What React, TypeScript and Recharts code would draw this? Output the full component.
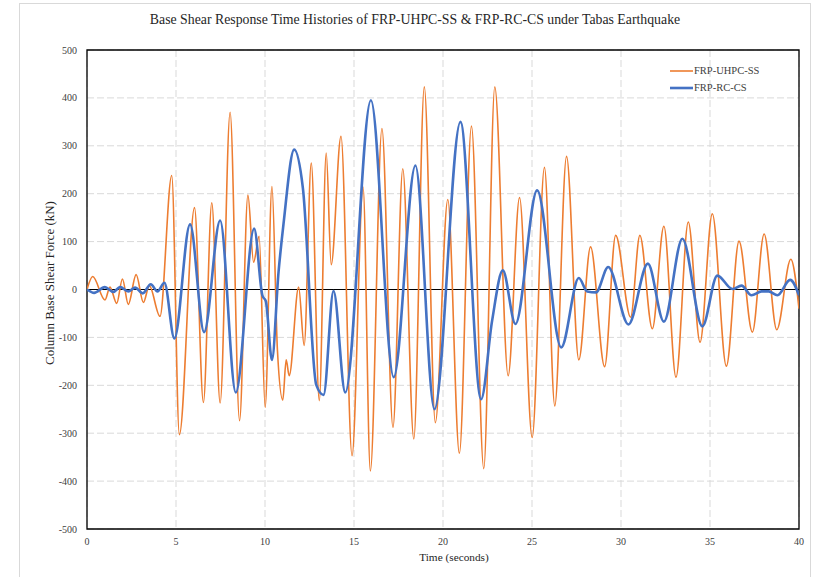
import {
  LineChart,
  Line,
  XAxis,
  YAxis,
  CartesianGrid,
  ReferenceLine,
  ReferenceArea,
  Legend,
} from 'recharts';

// FRP-UHPC-SS turning points (time in s, base shear in kN)
const uhpcTime = [
  0, 0.32, 1.01, 1.29, 1.67, 1.99, 2.32, 2.76, 3.17, 3.5, 4.1, 4.76, 5.19, 6.04, 6.54, 7.01,
  7.48, 8.04, 8.57, 9.04, 9.36, 9.67, 10.01, 10.39, 10.7, 11.0, 11.19, 11.36, 11.89, 12.2,
  12.6, 13.05, 13.44, 13.72, 14.27, 14.89, 15.51, 15.92, 16.57, 17.19, 17.74, 18.36, 18.95,
  19.57, 20.27, 20.92, 21.6, 22.29, 22.91, 23.66, 24.3, 25.01, 25.7, 26.28, 26.94, 27.63,
  28.29, 29.08, 29.7, 30.54, 31.06, 31.76, 32.41, 33.09, 33.78, 34.44, 35.13, 35.92, 36.63,
  37.38, 38.04, 38.75, 39.54, 40,
];
const uhpcForce = [
  0, 27, -22, 5, -29, 22, -31, 31, -27, 8, -56, 238, -303, 171, -236, 181,
  -237, 370, -274, 197, 57, 111, -246, 215, -128, -231, -147, -180, 5, -117,
  264, -232, 285, 52, 320, -347, 214, -379, 336, -288, 252, -312, 423,
  -278, 188, -342, 341, -374, 423, -180, 192, -309, 255, -243, 278, -147,
  89, -161, 113, -58, 113, -82, 132, -183, 141, -110, 158, -160, 101,
  -89, 116, -84, 63, -40,
];

// FRP-RC-CS turning points
const rcTime = [
  0, 0.4, 1.0, 1.48, 1.86, 2.32, 2.7, 3.13, 3.58, 3.96, 4.35, 4.91, 5.79, 6.58, 7.48, 8.36,
  9.39, 9.85, 10.05, 10.39, 10.76, 11.04, 11.64, 12.13, 12.88, 13.29, 13.85, 14.51, 15.95,
  17.23, 18.45, 19.52, 20.98, 22.14, 22.76, 23.36, 24.07, 25.29, 26.64, 27.63, 28.1, 28.6,
  29.28, 30.42, 31.51, 32.41, 33.45, 34.57, 35.41, 36.26, 36.77, 37.33, 37.9, 38.3, 38.79,
  39.5, 40,
];
const rcForce = [
  0, -7, 5, -5, 5, -4, 4, -8, 11, -4, 14, -102, 136, -89, 144, -215,
  127, -12, -25, -147, 36, 137, 292, 211, -199, -220, -3, -215, 395,
  -183, 259, -250, 350, -229, -65, 40, -72, 207, -121, 24, -4, -6,
  47, -73, 54, -67, 106, -77, 29, 1, 8, -12, -4, -4, -12,
  20, -12,
];

const xTicks = [0, 5, 10, 15, 20, 25, 30, 35, 40];
const yTicks = [-500, -400, -300, -200, -100, 0, 100, 200, 300, 400, 500];

const seriesNames = ['FRP-UHPC-SS', 'FRP-RC-CS'];
const seriesColors = ['#ED7D31', '#4472C4'];
const seriesWidths = [1.6, 2.6];

const uhpcData = uhpcTime.map((t, i) => ({ t, v: uhpcForce[i] }));
const rcData = rcTime.map((t, i) => ({ t, v: rcForce[i] }));

const FONT = '"Liberation Serif", "Times New Roman", serif';

function LegendBox({ payload }: any) {
  // keep the series order, not alphabetical
  const items = [...(payload || [])].sort(
    (a: any, b: any) => seriesNames.indexOf(a.value) - seriesNames.indexOf(b.value)
  );
  return (
    <div style={{ fontFamily: FONT, fontSize: 10.5, color: '#404040' }}>
      {items.map((entry: any) => {
        const idx = seriesNames.indexOf(entry.value);
        return (
          <div key={entry.value} style={{ display: 'flex', alignItems: 'center', height: 17 }}>
            <svg width={23} height={6} style={{ display: 'block' }}>
              <line x1={0} y1={3} x2={23} y2={3} stroke={entry.color} strokeWidth={seriesWidths[idx] ?? 2} />
            </svg>
            <span style={{ marginLeft: 1, lineHeight: '17px' }}>{entry.value}</span>
          </div>
        );
      })}
    </div>
  );
}

export default function App() {
  const tickStyle = { fontFamily: FONT, fontSize: 10, fill: '#404040' };

  return (
    <div
      style={{
        position: 'fixed',
        left: 0,
        top: 0,
        width: 813,
        height: 577,
        overflow: 'hidden',
        background: '#fff',
        fontFamily: FONT,
      }}
    >
      <div
        style={{
          position: 'absolute',
          left: 19,
          top: 3,
          width: 792,
          height: 620,
          border: '1.5px solid #d9d9d9',
          boxSizing: 'border-box',
        }}
      />
      <div
        style={{
          position: 'absolute',
          left: 19,
          width: 792,
          top: 11,
          textAlign: 'center',
          fontSize: 13.8,
          lineHeight: '18px',
          color: '#262626',
          whiteSpace: 'nowrap',
        }}
      >
        Base Shear Response Time Histories of FRP-UHPC-SS &amp; FRP-RC-CS under Tabas Earthquake
      </div>
      <div
        style={{
          position: 'absolute',
          left: 50,
          top: 282.5,
          transform: 'translate(-50%, -50%) rotate(-90deg)',
          fontSize: 13,
          color: '#262626',
          whiteSpace: 'nowrap',
        }}
      >
        Column Base Shear Force (kN)
      </div>
      <div
        style={{
          position: 'absolute',
          left: 454,
          top: 557,
          transform: 'translate(-50%, -50%)',
          fontSize: 11.3,
          fontWeight: 'normal',
          color: '#262626',
          whiteSpace: 'nowrap',
        }}
      >
        Time (seconds)
      </div>
      <div style={{ position: 'absolute', left: 0, top: 0 }}>
        <LineChart
          width={813}
          height={577}
          margin={{ top: 50, right: 14, bottom: 0, left: 0 }}
          style={{ fontFamily: FONT }}
        >
          <CartesianGrid stroke="#d9d9d9" strokeDasharray="7 3" />
          <XAxis
            type="number"
            dataKey="t"
            domain={[0, 40]}
            ticks={xTicks}
            height={48}
            tick={tickStyle}
            tickLine={false}
            axisLine={false}
            tickSize={0}
            tickMargin={9}
            allowDataOverflow
          />
          <YAxis
            type="number"
            domain={[-500, 500]}
            ticks={yTicks}
            width={87}
            tick={tickStyle}
            tickLine={false}
            axisLine={false}
            tickSize={0}
            tickMargin={10}
            allowDataOverflow
          />
          <ReferenceArea x1={0} x2={40} y1={-500} y2={500} fill="none" stroke="#000" strokeWidth={1.3} />
          <ReferenceLine y={0} stroke="#000" strokeWidth={1.2} />
          <Legend
            layout="vertical"
            align="center"
            verticalAlign="middle"
            content={<LegendBox />}
            wrapperStyle={{ left: 670, top: 62, width: 120, height: 40 }}
          />
          <Line
            data={uhpcData}
            dataKey="v"
            name={seriesNames[0]}
            type="monotone"
            stroke={seriesColors[0]}
            strokeWidth={seriesWidths[0]}
            dot={false}
            activeDot={false}
            isAnimationActive={false}
          />
          <Line
            data={rcData}
            dataKey="v"
            name={seriesNames[1]}
            type="monotone"
            stroke={seriesColors[1]}
            strokeWidth={seriesWidths[1]}
            dot={false}
            activeDot={false}
            isAnimationActive={false}
          />
        </LineChart>
      </div>
    </div>
  );
}
